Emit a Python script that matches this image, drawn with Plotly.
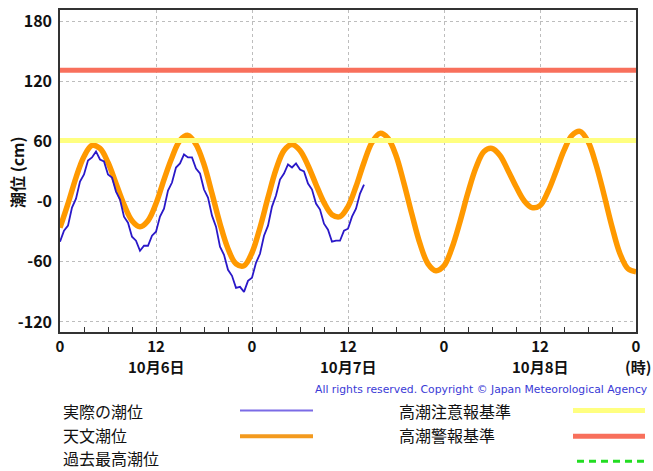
import plotly.graph_objects as go

# ---------------- data ----------------
# astronomical tide (cm), hourly from 10/6 00:00 to 10/9 00:00
astro_tide = [-26, -2, 24, 45, 56, 53, 39, 18, -3, -19, -25, -19, -2, 22, 44, 61, 66, 57, 37, 8,
              -22, -47, -62, -64, -51, -26, 4, 32, 51, 57, 51, 36, 17, -1, -13, -15, -5, 15, 39, 59,
              68, 63, 46, 18, -13, -42, -62, -69, -64, -46, -20, 9, 34, 50, 53, 46, 31, 15, 1, -6,
              -4, 10, 30, 51, 66, 70, 60, 37, 7, -25, -52, -67, -70]
astro_hours = list(range(len(astro_tide)))

# observed tide (cm), every 30 minutes from 10/6 00:00
actual_tide = [-40, -29, -24, -6, 3, 20, 27, 41, 44, 50, 42, 40, 27, 24, 10, 2, -15, -21, -35, -39,
               -49, -44, -44, -34, -30, -15, -7, 11, 19, 34, 38, 47, 44, 44, 33, 28, 12, 4, -14, -25,
               -45, -53, -68, -74, -86, -85, -90, -79, -76, -61, -52, -34, -24, -5, 6, 22, 28, 37, 34, 38,
               32, 30, 18, 12, -2, -8, -22, -28, -40, -39, -39, -29, -27, -15, -7, 8, 17]
actual_hours = [i * 0.5 for i in range(len(actual_tide))]

advisory_level = 61   # 高潮注意報基準
warning_level = 131   # 高潮警報基準
level_hours = [0, 72]

x_tickvals = [0, 12, 24, 36, 48, 60, 72]
x_ticktext = ["0", "12", "0", "12", "0", "12", "0"]
date_labels = ["10月6日", "10月7日", "10月8日"]
date_hours = [12, 36, 60]
y_tickvals = [180, 120, 60, 0, -60, -120]
y_ticktext = ["180", "120", "60", "-0", "-60", "-120"]

legend_left = ["実際の潮位", "天文潮位", "過去最高潮位"]
legend_right = ["高潮注意報基準", "高潮警報基準"]

# ---------------- style ----------------
ORANGE = "#ff9900"
BLUE = "#2a18c8"
YELLOW = "#ffff80"
RED = "#f8705c"
GREEN = "#22dd22"
JP = "Noto Sans CJK JP"

fig = go.Figure()
fig.add_trace(go.Scatter(x=astro_hours, y=astro_tide, mode="lines",
                         line=dict(color=ORANGE, width=5.5, shape="spline"), hoverinfo="skip"))
fig.add_trace(go.Scatter(x=actual_hours, y=actual_tide, mode="lines",
                         line=dict(color=BLUE, width=1.8), hoverinfo="skip"))
fig.add_trace(go.Scatter(x=level_hours, y=[advisory_level] * 2, mode="lines",
                         line=dict(color=YELLOW, width=5), hoverinfo="skip"))
fig.add_trace(go.Scatter(x=level_hours, y=[warning_level] * 2, mode="lines",
                         line=dict(color=RED, width=5), hoverinfo="skip"))

plot_l, plot_r, plot_t, plot_b = 60, 636, 8, 332
W, H = 653, 471
pw, ph = plot_r - plot_l, plot_b - plot_t


def px_x(p):
    return (p - plot_l) / pw


def px_y(p):
    return (plot_b - p) / ph


annotations = []
for h, txt in zip(date_hours, date_labels):
    annotations.append(dict(x=h, xref="x", y=px_y(367), yref="paper", text=txt, showarrow=False,
                            font=dict(family=JP, size=15, color="#111", weight="bold"),
                            xanchor="center", yanchor="middle"))
annotations.append(dict(x=px_x(623), xref="paper", y=px_y(367), yref="paper", text="(時)",
                        showarrow=False, font=dict(family=JP, size=15, color="#111", weight="bold"),
                        xanchor="left", yanchor="middle"))
annotations.append(dict(x=px_x(650), xref="paper", y=px_y(390), yref="paper",
                        text="All rights reserved. Copyright © Japan Meteorological Agency",
                        showarrow=False, font=dict(family="DejaVu Sans", size=10.8, color="#3a3ad6"),
                        xanchor="right", yanchor="middle"))
annotations.append(dict(x=px_x(17), xref="paper", y=px_y(171), yref="paper", text="潮位 (cm)",
                        textangle=-90, showarrow=False,
                        font=dict(family=JP, size=16, color="#111", weight="bold"),
                        xanchor="center", yanchor="middle"))
rows = [411, 436, 459]
for txt, r in zip(legend_left, rows):
    annotations.append(dict(x=px_x(61), xref="paper", y=px_y(r), yref="paper", text=txt,
                            showarrow=False, font=dict(family=JP, size=16, color="#111"),
                            xanchor="left", yanchor="middle"))
for txt, r in zip(legend_right, rows):
    annotations.append(dict(x=px_x(397), xref="paper", y=px_y(r), yref="paper", text=txt,
                            showarrow=False, font=dict(family=JP, size=16, color="#111"),
                            xanchor="left", yanchor="middle"))

shapes = [
    dict(type="line", xref="paper", yref="paper", x0=px_x(240), x1=px_x(313), y0=px_y(411), y1=px_y(411),
         line=dict(color="#7b6be6", width=2)),
    dict(type="line", xref="paper", yref="paper", x0=px_x(240), x1=px_x(313), y0=px_y(437), y1=px_y(437),
         line=dict(color="#f39a1e", width=4)),
    dict(type="line", xref="paper", yref="paper", x0=px_x(573), x1=px_x(645), y0=px_y(411), y1=px_y(411),
         line=dict(color=YELLOW, width=5)),
    dict(type="line", xref="paper", yref="paper", x0=px_x(573), x1=px_x(645), y0=px_y(437), y1=px_y(437),
         line=dict(color=RED, width=5)),
    dict(type="line", xref="paper", yref="paper", x0=px_x(577), x1=px_x(645), y0=px_y(462), y1=px_y(462),
         line=dict(color=GREEN, width=3, dash="7px,5px")),
]

fig.update_layout(
    width=W, height=H,
    margin=dict(l=plot_l, r=W - plot_r, t=plot_t, b=H - plot_b),
    paper_bgcolor="white", plot_bgcolor="white",
    showlegend=False,
    annotations=annotations,
    shapes=shapes,
    xaxis=dict(range=[0, 72], tickvals=x_tickvals, ticktext=x_ticktext,
               showgrid=True, gridcolor="#bdbdbd", griddash="dot", gridwidth=1,
               showline=True, linecolor="#333", linewidth=1.5, mirror=True,
               ticks="inside", ticklen=5, tickcolor="#333", tickwidth=1,
               minor=dict(dtick=3, ticks="inside", ticklen=5, tickcolor="#333", showgrid=False),
               tickfont=dict(family=JP, size=15, color="#111", weight="bold"),
               zeroline=False, fixedrange=True),
    yaxis=dict(range=[-130, 191], tickvals=y_tickvals, ticktext=y_ticktext,
               showgrid=True, gridcolor="#bdbdbd", griddash="dot", gridwidth=1,
               showline=True, linecolor="#333", linewidth=1.5, mirror=True,
               ticks="", ticklabelstandoff=3,
               tickfont=dict(family=JP, size=16, color="#111", weight="bold"),
               zeroline=False, fixedrange=True),
)

fig.write_html("out.html", config={"displayModeBar": False},
               post_script="document.body.style.margin='0';document.body.style.overflow='hidden';")
